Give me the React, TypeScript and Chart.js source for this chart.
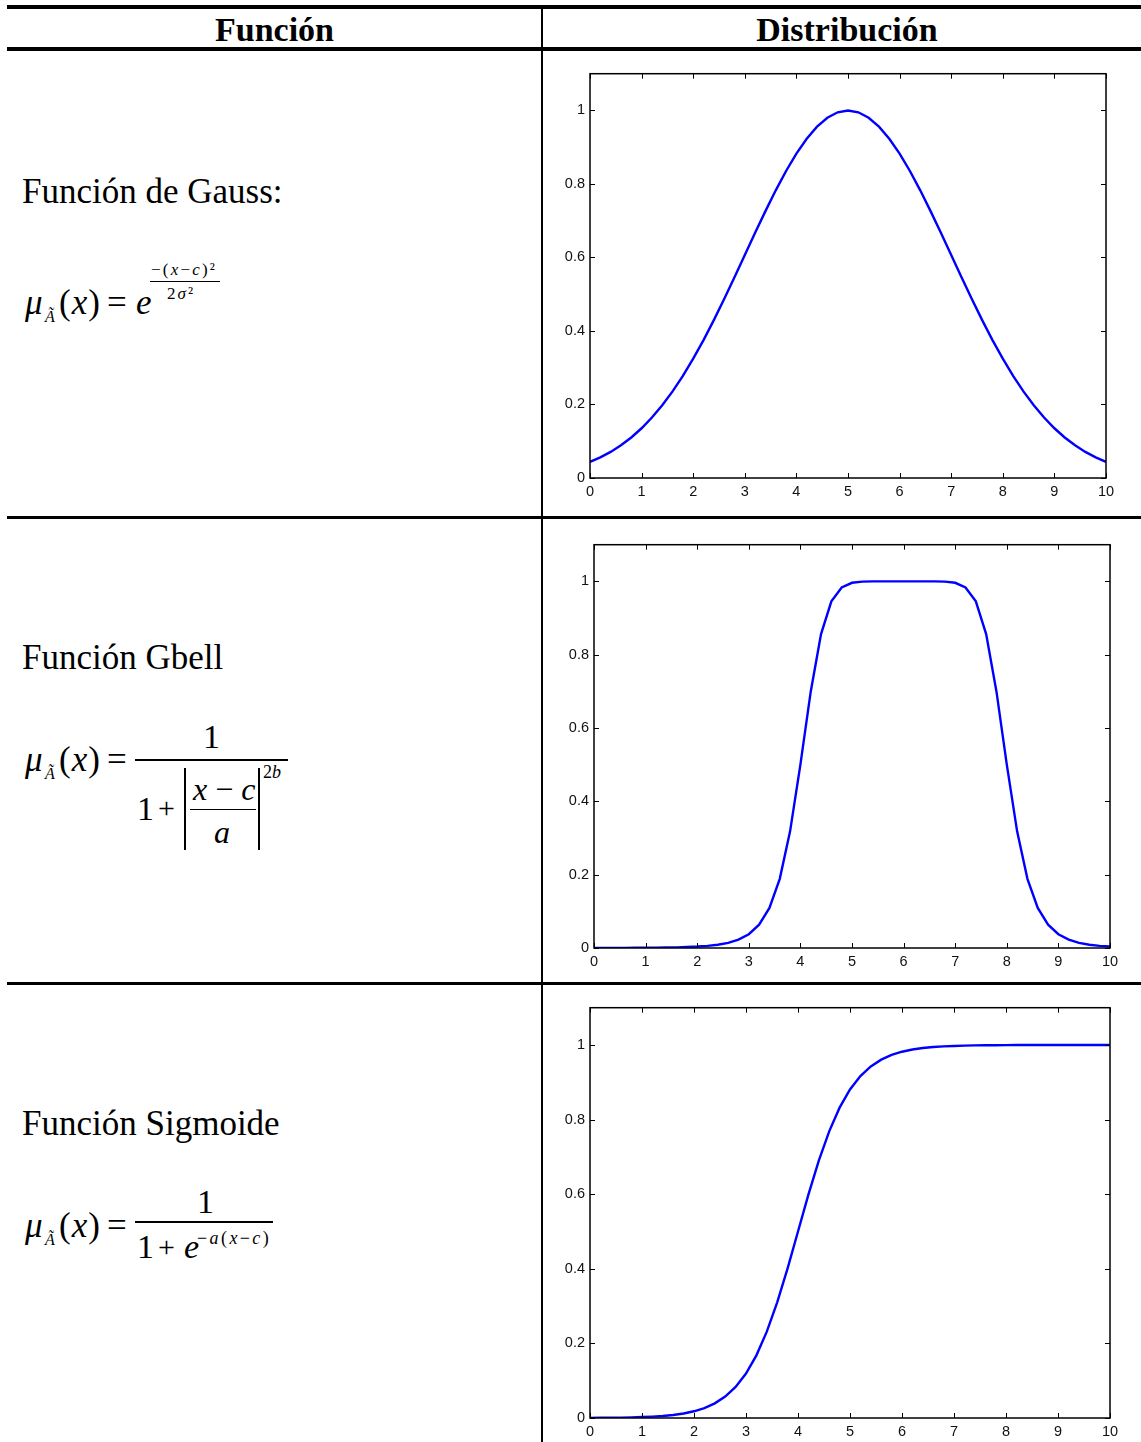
import React, { useEffect, useRef } from "react";
import { Chart, registerables } from "chart.js";

Chart.register(...registerables);

// Sample positions along the universe of discourse [0, 10]
const X_POS = [
  0, 0.2, 0.4, 0.6, 0.8, 1, 1.2, 1.4, 1.6, 1.8, 2, 2.2, 2.4, 2.6, 2.8, 3, 3.2, 3.4, 3.6, 3.8, 4, 4.2, 4.4,
  4.6, 4.8, 5, 5.2, 5.4, 5.6, 5.8, 6, 6.2, 6.4, 6.6, 6.8, 7, 7.2, 7.4, 7.6, 7.8, 8, 8.2, 8.4, 8.6, 8.8, 9,
  9.2, 9.4, 9.6, 9.8, 10,
];

// Gaussian membership degrees
const GAUSS_VALUES = [
  0.0439, 0.0561, 0.071, 0.0889, 0.1103, 0.1353, 0.1645, 0.1979, 0.2357, 0.278, 0.3247, 0.3753, 0.4296,
  0.4868, 0.5461, 0.6065, 0.667, 0.7261, 0.7827, 0.8353, 0.8825, 0.9231, 0.956, 0.9802, 0.995, 1.0, 0.995,
  0.9802, 0.956, 0.9231, 0.8825, 0.8353, 0.7827, 0.7261, 0.667, 0.6065, 0.5461, 0.4868, 0.4296, 0.3753,
  0.3247, 0.278, 0.2357, 0.1979, 0.1645, 0.1353, 0.1103, 0.0889, 0.071, 0.0561, 0.0439,
];

// Generalized bell membership degrees
const GBELL_VALUES = [
  0.0002, 0.0002, 0.0003, 0.0004, 0.0005, 0.0007, 0.0009, 0.0013, 0.0018, 0.0026, 0.0039, 0.0059, 0.009,
  0.0141, 0.0228, 0.0376, 0.0635, 0.1092, 0.1887, 0.3181, 0.5, 0.6991, 0.8563, 0.9455, 0.9835, 0.9961,
  0.9993, 0.9999, 1.0, 1.0, 1.0, 1.0, 1.0, 0.9999, 0.9993, 0.9961, 0.9835, 0.9455, 0.8563, 0.6991, 0.5,
  0.3181, 0.1887, 0.1092, 0.0635, 0.0376, 0.0228, 0.0141, 0.009, 0.0059, 0.0039,
];

// Sigmoid membership degrees
const SIGMOID_VALUES = [
  0.0003, 0.0005, 0.0007, 0.0011, 0.0017, 0.0025, 0.0037, 0.0055, 0.0082, 0.0121, 0.018, 0.0266, 0.0392,
  0.0573, 0.0832, 0.1192, 0.168, 0.2315, 0.31, 0.4013, 0.5, 0.5987, 0.69, 0.7685, 0.832, 0.8808, 0.9168,
  0.9427, 0.9608, 0.9734, 0.982, 0.9879, 0.9918, 0.9945, 0.9963, 0.9975, 0.9983, 0.9989, 0.9993, 0.9995,
  0.9997, 0.9998, 0.9998, 0.9999, 0.9999, 1.0, 1.0, 1.0, 1.0, 1.0, 1.0,
];

const X_TICKS = [0, 1, 2, 3, 4, 5, 6, 7, 8, 9, 10];
const Y_TICKS = [0, 0.2, 0.4, 0.6, 0.8, 1];
const X_MIN = 0;
const X_MAX = 10;
const Y_MIN = 0;
const Y_MAX = 1.1;

const SERIF = "'Liberation Serif', 'Times New Roman', serif";
const SANS = "'Liberation Sans', Arial, sans-serif";

// Box around the plot area with inward tick marks on all four sides
const boxPlugin = {
  id: "boxedAxes",
  afterDraw(chart: any) {
    const { ctx, chartArea, scales } = chart;
    const { left, right, top, bottom } = chartArea;
    const len = 5;
    ctx.save();
    ctx.strokeStyle = "#000";
    ctx.lineWidth = 1;
    ctx.beginPath();
    for (const t of scales.x.ticks) {
      const px = Math.round(scales.x.getPixelForValue(t.value)) + 0.5;
      ctx.moveTo(px, bottom);
      ctx.lineTo(px, bottom - len);
      ctx.moveTo(px, top);
      ctx.lineTo(px, top + len);
    }
    for (const t of scales.y.ticks) {
      const py = Math.round(scales.y.getPixelForValue(t.value)) + 0.5;
      ctx.moveTo(left, py);
      ctx.lineTo(left + len, py);
      ctx.moveTo(right, py);
      ctx.lineTo(right - len, py);
    }
    ctx.stroke();
    ctx.lineWidth = 1.5;
    ctx.strokeRect(left, top, right - left, bottom - top);
    ctx.restore();
  },
};

type PlotProps = {
  values: number[];
  plotLeft: number;
  plotTop: number;
  plotWidth: number;
  plotHeight: number;
};

const AXIS_W = 45;
const AXIS_H = 30;
const PAD_TOP = 12;
const PAD_RIGHT = 22;

function MembershipPlot({ values, plotLeft, plotTop, plotWidth, plotHeight }: PlotProps) {
  const ref = useRef<HTMLCanvasElement | null>(null);
  const w = plotWidth + AXIS_W + PAD_RIGHT;
  const h = plotHeight + AXIS_H + PAD_TOP;

  useEffect(() => {
    if (!ref.current) return;
    const tickFont = { family: SANS, size: 14.5 };
    const chart = new Chart(ref.current, {
      type: "line",
      data: {
        datasets: [
          {
            data: X_POS.map((x, i) => ({ x, y: values[i] })),
            borderColor: "#0000ff",
            borderWidth: 2.4,
            pointRadius: 0,
            tension: 0,
            fill: false,
          },
        ],
      },
      options: {
        animation: false,
        responsive: false,
        maintainAspectRatio: false,
        layout: { padding: { top: PAD_TOP, right: PAD_RIGHT, left: 0, bottom: 0 } },
        plugins: { legend: { display: false }, tooltip: { enabled: false } },
        scales: {
          x: {
            type: "linear",
            min: X_MIN,
            max: X_MAX,
            afterBuildTicks: (s: any) => {
              s.ticks = X_TICKS.map((v) => ({ value: v }));
            },
            afterFit: (s: any) => {
              s.height = AXIS_H;
            },
            grid: { display: false, drawTicks: false },
            border: { display: false },
            ticks: {
              padding: 5,
              font: tickFont,
              color: "#111",
              maxRotation: 0,
              autoSkip: false,
              callback: (v: any) => String(v),
            },
          },
          y: {
            type: "linear",
            min: Y_MIN,
            max: Y_MAX,
            afterBuildTicks: (s: any) => {
              s.ticks = Y_TICKS.map((v) => ({ value: v }));
            },
            afterFit: (s: any) => {
              s.width = AXIS_W;
            },
            grid: { display: false, drawTicks: false },
            border: { display: false },
            ticks: {
              padding: 5,
              font: tickFont,
              color: "#111",
              autoSkip: false,
              callback: (v: any) => String(v),
            },
          },
        },
      },
      plugins: [boxPlugin],
    } as any);
    return () => chart.destroy();
  }, [values]);

  return (
    <canvas
      ref={ref}
      width={w}
      height={h}
      style={{
        position: "absolute",
        left: plotLeft - AXIS_W,
        top: plotTop - PAD_TOP,
        width: w,
        height: h,
      }}
    />
  );
}

type TextProps = {
  x: number;
  bl: number;
  size: number;
  italic?: boolean;
  bold?: boolean;
  spacing?: number;
  children: React.ReactNode;
};

// Text placed by its baseline
function T({ x, bl, size, italic, bold, spacing, children }: TextProps) {
  return (
    <div
      style={{
        position: "absolute",
        left: x,
        top: bl - 0.8375 * size,
        fontFamily: SERIF,
        fontSize: size,
        lineHeight: 1,
        whiteSpace: "nowrap",
        fontStyle: italic ? "italic" : "normal",
        fontWeight: bold ? "bold" : "normal",
        letterSpacing: spacing ?? 0,
        color: "#000",
      }}
    >
      {children}
    </div>
  );
}

const I = ({ children }: { children: React.ReactNode }) => <span style={{ fontStyle: "italic" }}>{children}</span>;

function Rule({ x, y, w, h }: { x: number; y: number; w: number; h: number }) {
  return <div style={{ position: "absolute", left: x, top: y, width: w, height: h, background: "#000" }} />;
}

function MuHead({ bl }: { bl: number }) {
  return (
    <>
      <T x={25} bl={bl} size={35} italic>
        μ
      </T>
      <T x={45} bl={bl + 8} size={16} italic>
        Ã
      </T>
      <T x={59} bl={bl} size={35} spacing={1}>
        (<I>x</I>)
      </T>
      <T x={107} bl={bl} size={35}>
        =
      </T>
    </>
  );
}

export default function App() {
  return (
    <div
      style={{
        position: "absolute",
        left: 0,
        top: 0,
        width: 1141,
        height: 1442,
        overflow: "hidden",
        background: "#fff",
      }}
    >
      {/* table rules */}
      <Rule x={7} y={5} w={1134} h={4} />
      <Rule x={7} y={47} w={1134} h={4} />
      <Rule x={541} y={5} w={2} h={1437} />
      <Rule x={7} y={516} w={1134} h={2.5} />
      <Rule x={7} y={982} w={1134} h={2.5} />

      {/* header */}
      <div
        style={{
          position: "absolute",
          left: 8,
          width: 533,
          top: 41 - 0.8375 * 34,
          textAlign: "center",
          fontFamily: SERIF,
          fontWeight: "bold",
          fontSize: 34,
          lineHeight: 1,
        }}
      >
        Función
      </div>
      <div
        style={{
          position: "absolute",
          left: 543,
          width: 608,
          top: 41 - 0.8375 * 34,
          textAlign: "center",
          fontFamily: SERIF,
          fontWeight: "bold",
          fontSize: 34,
          lineHeight: 1,
        }}
      >
        Distribución
      </div>

      {/* Gauss */}
      <T x={22} bl={203} size={35}>
        Función de Gauss:
      </T>
      <MuHead bl={314} />
      <T x={136} bl={314} size={35} italic>
        e
      </T>
      <T x={151} bl={275} size={17} spacing={2.2}>
        −(<I>x</I>−<I>c</I>)²
      </T>
      <Rule x={150} y={281} w={70} h={1} />
      <T x={167} bl={299} size={17} spacing={2}>
        2<I>σ</I>²
      </T>

      {/* Gbell */}
      <T x={22} bl={669} size={35}>
        Función Gbell
      </T>
      <MuHead bl={771} />
      <T x={203} bl={748} size={34}>
        1
      </T>
      <Rule x={135} y={759} w={153} h={1.5} />
      <T x={137} bl={820} size={34}>
        1
      </T>
      <T x={158} bl={818} size={30}>
        +
      </T>
      <Rule x={184} y={768} w={1.5} h={82} />
      <T x={193} bl={800} size={32}>
        <I>x</I> − <I>c</I>
      </T>
      <Rule x={190} y={809} w={66} h={1} />
      <T x={214} bl={843} size={32} italic>
        a
      </T>
      <Rule x={258} y={768} w={1.5} h={82} />
      <T x={263} bl={778} size={18}>
        2<I>b</I>
      </T>

      {/* Sigmoid */}
      <T x={22} bl={1135} size={35}>
        Función Sigmoide
      </T>
      <MuHead bl={1237} />
      <T x={197} bl={1213} size={34}>
        1
      </T>
      <Rule x={135} y={1221} w={138} h={1.5} />
      <T x={137} bl={1258} size={34}>
        1
      </T>
      <T x={158} bl={1257} size={30}>
        +
      </T>
      <T x={184} bl={1258} size={34} italic>
        e
      </T>
      <T x={197} bl={1244} size={18} spacing={2.4}>
        −<I>a</I>(<I>x</I>−<I>c</I>)
      </T>

      {/* distributions */}
      <MembershipPlot values={GAUSS_VALUES} plotLeft={590} plotTop={72} plotWidth={516} plotHeight={406} />
      <MembershipPlot values={GBELL_VALUES} plotLeft={594} plotTop={543} plotWidth={516} plotHeight={405} />
      <MembershipPlot values={SIGMOID_VALUES} plotLeft={590} plotTop={1006} plotWidth={520} plotHeight={412} />
    </div>
  );
}
